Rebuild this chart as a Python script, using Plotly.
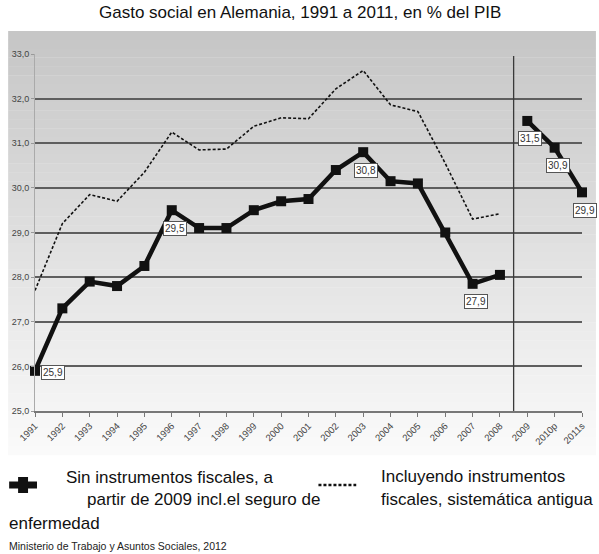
import plotly.graph_objects as go

# ---------------- data ----------------
years = ["1991", "1992", "1993", "1994", "1995", "1996", "1997", "1998", "1999", "2000",
         "2001", "2002", "2003", "2004", "2005", "2006", "2007", "2008", "2009", "2010p", "2011s"]
sin_instr = [25.9, 27.3, 27.9, 27.8, 28.25, 29.5, 29.1, 29.1, 29.5, 29.7,
             29.75, 30.4, 30.8, 30.15, 30.1, 29.0, 27.85, 28.05, 31.5, 30.9, 29.9]
incl_instr = [27.7, 29.2, 29.85, 29.7, 30.35, 31.25, 30.85, 30.87, 31.38, 31.57,
              31.55, 32.22, 32.63, 31.86, 31.71, 30.55, 29.3, 29.42, None, None, None]
labeled_years = ["1991", "1996", "2003", "2007", "2009", "2010p", "2011s"]
y_ticks = [25, 26, 27, 28, 29, 30, 31, 32, 33]
y_ticktext = ["25,0", "26,0", "27,0", "28,0", "29,0", "30,0", "31,0", "32,0", "33,0"]
break_after = "2008"

title_text = "Gasto social en Alemania, 1991 a 2011, en % del PIB"
legend_solid = ["Sin instrumentos fiscales, a", "partir de 2009 incl.el seguro de", "enfermedad"]
legend_dot = ["Incluyendo instrumentos", "fiscales, sistemática antigua"]
source_text = "Ministerio de Trabajo y Asuntos Sociales, 2012"

# ---------------- layout geometry ----------------
W, H = 599, 554
L, R, T, B = 35, 14, 54, 143
PW, PH = W - L - R, H - T - B          # 550 x 357


def xp(px):  # screen px -> paper
    return (px - L) / PW


def yp(py):
    return (H - B - py) / PH


FONT = "Liberation Sans, Arial, sans-serif"

fig = go.Figure()

idx = list(range(len(years)))
cut = years.index(break_after) + 1
fig.add_trace(go.Scatter(
    x=idx[:cut], y=incl_instr[:cut], mode="lines",
    line=dict(color="#111111", width=1.6, dash="3px,2px"),
    cliponaxis=False, showlegend=False, hoverinfo="y"))
for seg in (slice(0, cut), slice(cut, len(years))):
    fig.add_trace(go.Scatter(
        x=idx[seg], y=sin_instr[seg], mode="lines+markers",
        line=dict(color="#111111", width=4.5),
        marker=dict(symbol="square", size=10, color="#111111"),
        cliponaxis=False, showlegend=False, hoverinfo="y"))

# gradient background bands
top_px, bot_px = 31, 455
n = 48
c_top, c_bot = 198, 250
shapes = []
for i in range(n):
    y0 = top_px + (bot_px - top_px) * i / n
    y1 = top_px + (bot_px - top_px) * (i + 1) / n
    c = round(c_top + (c_bot - c_top) * i / (n - 1))
    shapes.append(dict(type="rect", xref="paper", yref="paper", layer="below",
                       x0=xp(8), x1=xp(599), y0=yp(y1 + 0.3), y1=yp(y0),
                       fillcolor=f"rgb({c},{c},{c})", line=dict(width=0)))

# separator line between 2008 and 2009
shapes.append(dict(type="line", xref="x", yref="paper", x0=cut - 0.5, x1=cut - 0.5,
                   y0=0, y1=yp(56), line=dict(color="#3a3a3a", width=1.3)))

# legend icons
shapes.append(dict(type="line", xref="paper", yref="paper", x0=xp(9), x1=xp(37),
                   y0=yp(485), y1=yp(485), line=dict(color="#111111", width=7)))
shapes.append(dict(type="rect", xref="paper", yref="paper", x0=xp(18), x1=xp(28),
                   y0=yp(493), y1=yp(477), fillcolor="#111111", line=dict(width=0)))
shapes.append(dict(type="line", xref="paper", yref="paper", x0=xp(320), x1=xp(358),
                   y0=yp(485), y1=yp(485),
                   line=dict(color="#111111", width=2.5, dash="3px,2px")))

annotations = []
# data labels
for yr in labeled_years:
    i = years.index(yr)
    v = sin_instr[i]
    txt = f"{v:.1f}".replace(".", ",")
    if i == 0:
        xs, ys = 18, -2
    else:
        xs, ys = 3, -18
    annotations.append(dict(x=i, y=v, xref="x", yref="y", text=txt, showarrow=False,
                            xshift=xs, yshift=ys, bgcolor="white", bordercolor="#555555",
                            borderwidth=1, borderpad=1,
                            font=dict(family=FONT, size=10, color="#333333")))

# title
annotations.append(dict(x=xp(301), y=yp(13), xref="paper", yref="paper", text=title_text,
                        showarrow=False, xanchor="center", yanchor="middle",
                        font=dict(family=FONT, size=17, color="#111111")))
# legend text
leg_pos = [(64, 477), (85, 499), (7, 523)]
for (px, py), t in zip(leg_pos, legend_solid):
    annotations.append(dict(x=xp(px), y=yp(py), xref="paper", yref="paper", text=t,
                            showarrow=False, xanchor="left", yanchor="middle",
                            font=dict(family=FONT, size=17, color="#111111")))
for (px, py), t in zip([(381, 476), (381, 499)], legend_dot):
    annotations.append(dict(x=xp(px), y=yp(py), xref="paper", yref="paper", text=t,
                            showarrow=False, xanchor="left", yanchor="middle",
                            font=dict(family=FONT, size=17, color="#111111")))
annotations.append(dict(x=xp(7), y=yp(546), xref="paper", yref="paper", text=source_text,
                        showarrow=False, xanchor="left", yanchor="middle",
                        font=dict(family=FONT, size=10.5, color="#222222")))

fig.update_layout(
    width=W, height=H, margin=dict(l=L, r=R, t=T, b=B),
    paper_bgcolor="white", plot_bgcolor="rgba(0,0,0,0)",
    shapes=shapes, annotations=annotations, showlegend=False,
    xaxis=dict(range=[0, len(years) - 1], tickvals=idx, ticktext=years,
               showgrid=False, zeroline=False,
               showline=True, linecolor="#777777", linewidth=1.5,
               ticks="outside", ticklen=4, tickcolor="#777777", tickwidth=1,
               tickangle=-45, tickfont=dict(family=FONT, size=9.5, color="#444444")),
    yaxis=dict(range=[25, 33], tickvals=y_ticks, ticktext=y_ticktext,
               showgrid=True, gridcolor="#5e5e5e", gridwidth=1.5, zeroline=False,
               showline=True, linecolor="#aaaaaa", linewidth=1,
               ticks="outside", ticklen=3, tickcolor="#999999",
               tickfont=dict(family=FONT, size=9, color="#444444")),
)

fig.write_html("out.html", config={"displayModeBar": False},
               post_script="document.body.style.margin='0';document.body.style.overflow='hidden';")
